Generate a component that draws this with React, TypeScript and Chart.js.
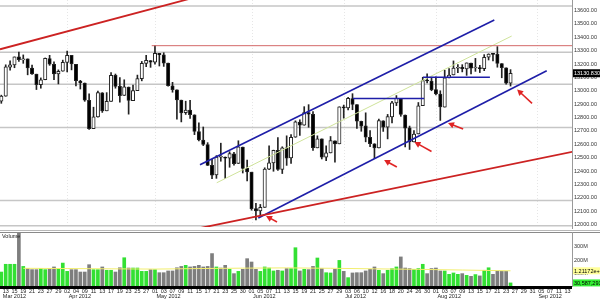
import React, { useEffect, useRef } from 'react';
import { Chart, registerables } from 'chart.js';

Chart.register(...registerables);

const FONT = "'Liberation Sans', Arial, sans-serif";

// ---- categories (trading days, Mar 12 2012 .. Sep 14 2012) ----
const dayLabels = [
  '12', '13', '14', '15', '16', '19', '20', '21', '22', '23', '26', '27', '28', '29', '30',
  '02', '03', '04', '05', '09', '10', '11', '12', '13', '16', '17', '18', '19', '20', '23', '24', '25', '26', '27', '30',
  '01', '02', '03', '04', '07', '08', '09', '10', '11', '14', '15', '16', '17', '18', '21', '22', '23', '24', '25', '29', '30', '31',
  '01', '04', '05', '06', '07', '08', '11', '12', '13', '14', '15', '18', '19', '20', '21', '22', '25', '26', '27', '28', '29',
  '02', '03', '05', '06', '09', '10', '11', '12', '13', '16', '17', '18', '19', '20', '23', '24', '25', '26', '27', '30', '31',
  '01', '02', '03', '06', '07', '08', '09', '10', '13', '14', '15', '16', '17', '20', '21', '22', '23', '24', '27', '28', '29', '30', '31',
  '04', '05', '06', '07', '10', '11', '12', '13', '14',
];
const monthNames = ['Mar 2012', 'Apr 2012', 'May 2012', 'Jun 2012', 'Jul 2012', 'Aug 2012', 'Sep 2012'];
const monthStarts = [0, 15, 35, 57, 78, 99, 122];

// ---- OHLC ----
const opens = [12922, 12960, 13177, 13193, 13253, 13230, 13238, 13170, 13124, 13046,
  13082, 13241, 13197, 13125, 13146, 13211, 13264, 13198, 13073, 13058,
  12929, 12717, 12805, 12985, 12850, 12921, 13115, 13033, 12965, 13028,
  12926, 13001, 13091, 13205, 13226, 13214, 13279, 13268, 13206, 13037,
  13007, 12930, 12836, 12855, 12820, 12695, 12631, 12597, 12442, 12370,
  12503, 12502, 12496, 12529, 12456, 12579, 12420, 12391, 12119, 12101,
  12128, 12414, 12460, 12555, 12411, 12573, 12497, 12652, 12766, 12742,
  12836, 12823, 12573, 12640, 12503, 12535, 12626, 12603, 12879, 12871,
  12942, 12896, 12772, 12737, 12652, 12604, 12573, 12776, 12728, 12805,
  12909, 12942, 12819, 12722, 12617, 12677, 12889, 13076, 13072, 13009,
  12976, 12878, 13096, 13118, 13168, 13175, 13164, 13207, 13170, 13172,
  13165, 13251, 13274, 13272, 13203, 13172, 13057];
const highs = [12967, 13194, 13224, 13253, 13289, 13268, 13238, 13192, 13124, 13096,
  13245, 13265, 13217, 13156, 13229, 13297, 13264, 13198, 13078, 13058,
  12977, 12877, 12998, 12986, 12986, 13135, 13125, 13099, 13082, 13028,
  13043, 13117, 13219, 13265, 13226, 13338, 13279, 13284, 13206, 13063,
  13007, 12930, 12922, 12929, 12820, 12761, 12729, 12612, 12488, 12515,
  12608, 12505, 12544, 12539, 12626, 12579, 12481, 12391, 12158, 12150,
  12424, 12589, 12556, 12650, 12581, 12663, 12673, 12775, 12783, 12881,
  12896, 12844, 12663, 12640, 12589, 12658, 12626, 12880, 12893, 12950,
  12978, 12896, 12773, 12835, 12702, 12604, 12788, 12776, 12823, 12920,
  12964, 12942, 12819, 12736, 12703, 12912, 13101, 13127, 13102, 13104,
  13000, 13153, 13165, 13223, 13195, 13195, 13208, 13207, 13242, 13190,
  13270, 13276, 13279, 13330, 13203, 13172, 13158];
const lows = [12906, 12959, 13154, 13172, 13220, 13205, 13119, 13123, 13009, 13019,
  13082, 13190, 13083, 13051, 13146, 13140, 13156, 13036, 13013, 12921,
  12710, 12717, 12802, 12838, 12850, 12921, 13019, 12915, 12965, 12825,
  12926, 13001, 13074, 13180, 13175, 13198, 13185, 13182, 13035, 12989,
  12787, 12767, 12823, 12794, 12672, 12624, 12590, 12441, 12342, 12345,
  12473, 12343, 12428, 12444, 12456, 12385, 12325, 12107, 12035, 12063,
  12128, 12410, 12398, 12405, 12381, 12442, 12456, 12652, 12666, 12742,
  12727, 12553, 12573, 12490, 12477, 12535, 12466, 12603, 12795, 12857,
  12858, 12719, 12697, 12618, 12582, 12492, 12573, 12696, 12640, 12759,
  12889, 12809, 12580, 12561, 12617, 12677, 12889, 13058, 13000, 12968,
  12778, 12878, 13096, 13118, 13135, 13141, 13115, 13125, 13145, 13136,
  13150, 13230, 13223, 13176, 13097, 13050, 13035];
const closes = [12960, 13178, 13194, 13253, 13233, 13239, 13170, 13125, 13046, 13081,
  13242, 13198, 13126, 13146, 13212, 13264, 13200, 13075, 13060, 12930,
  12716, 12805, 12987, 12850, 12921, 13116, 13033, 12964, 13029, 12927,
  13002, 13091, 13205, 13228, 13214, 13279, 13269, 13207, 13038, 13009,
  12932, 12835, 12855, 12821, 12695, 12632, 12599, 12442, 12369, 12504,
  12503, 12496, 12530, 12455, 12581, 12420, 12393, 12119, 12101, 12128,
  12415, 12461, 12554, 12411, 12574, 12496, 12652, 12767, 12742, 12837,
  12824, 12574, 12641, 12503, 12535, 12627, 12602, 12880, 12871, 12944,
  12897, 12772, 12736, 12653, 12605, 12573, 12777, 12727, 12806, 12909,
  12943, 12823, 12721, 12617, 12676, 12888, 13076, 13073, 13009, 12976,
  12879, 13096, 13118, 13169, 13176, 13165, 13208, 13169, 13172, 13165,
  13250, 13275, 13272, 13204, 13173, 13057, 13130.83];

// ---- volume (millions) ----
const volumes = [112, 170, 170, 170, 420, 154, 138, 130, 130, 138,
  130, 138, 150, 138, 179, 117, 130, 130, 112, 112,
  167, 130, 130, 150, 125, 125, 112, 144, 219, 142,
  142, 142, 117, 117, 130, 130, 107, 107, 120, 120,
  144, 154, 162, 150, 154, 162, 150, 154, 250, 150,
  142, 162, 132, 100, 117, 132, 212, 187, 132, 117,
  150, 142, 120, 125, 120, 138, 138, 294, 120, 132,
  130, 154, 217, 138, 107, 105, 132, 199, 117, 70,
  105, 107, 107, 120, 132, 150, 125, 100, 125, 138,
  150, 225, 142, 138, 132, 138, 170, 100, 138, 142,
  120, 120, 95, 105, 95, 100, 87, 80, 93, 83,
  125, 144, 95, 120, 117, 117, 30.587];
const volAvgIdx = [5, 15, 25, 35, 45, 55, 65, 75, 85, 95, 105, 116];
const volAvg = [140, 138, 136, 134, 138, 141, 143, 140, 136, 132, 127, 121.172];

// ---- axis ticks ----
const priceTicks = [12000, 12100, 12200, 12300, 12400, 12500, 12600, 12700, 12800, 12900,
  13000, 13100, 13200, 13300, 13400, 13500, 13600];
const volTicks = [100, 200, 300];

// ---- drawn studies (in data units: [day index, price]) ----
const grayLevels = [13634, 13287, 13048, 12725, 12179, 11990];
const upperRed = [[-0.3, 13310], [60, 13837]];
const lowerRed = [[44, 11965], [130.2, 12544]];
const channelTop = [[45.26, 12447], [112.3, 13529]];
const channelBottom = [[58.54, 12049], [124.24, 13150]];
const channelMid = [[49.07, 12312], [116.26, 13409]];
const resistance1 = [[80.1, 12942], [96.3, 12942]];
const resistance2 = [[96.06, 13101], [111.3, 13101]];
const mayHigh = [[34.26, 13337], [130, 13337]];
// arrows: [tailIdx, tailPrice, tipIdx, tipPrice]
const arrows = [
  [62.8, 12019, 60.3, 12064],
  [90.1, 12430, 87.2, 12482],
  [98.0, 12546, 94.1, 12617],
  [105.2, 12714, 101.75, 12759],
  [120.9, 12905, 117.5, 13009],
];
const lastPrice = 13130.83;
const lastPriceText = '13130.8301';
const volAvgText = '1.21172e+08';
const lastVolText = '30,587,291';

const X_MIN = -0.3;
const X_MAX = 130;

function lineDs(pts: number[][], color: string, width: number, order: number) {
  return {
    type: 'line',
    data: pts.map(([x, y]) => ({ x, y })),
    borderColor: color,
    borderWidth: width,
    pointRadius: 0,
    fill: false,
    tension: 0,
    order,
  };
}

function drawArrow(ctx: CanvasRenderingContext2D, x0: number, y0: number, x1: number, y1: number) {
  const a = Math.atan2(y1 - y0, x1 - x0);
  const c = Math.cos(a), s = Math.sin(a);
  ctx.strokeStyle = '#e02424';
  ctx.fillStyle = '#e02424';
  ctx.lineWidth = 1.6;
  ctx.beginPath();
  ctx.moveTo(x0, y0);
  ctx.lineTo(x1 - 4 * c, y1 - 4 * s);
  ctx.stroke();
  const h = 6, w = 3.2;
  ctx.beginPath();
  ctx.moveTo(x1, y1);
  ctx.lineTo(x1 - h * c + w * s, y1 - h * s - w * c);
  ctx.lineTo(x1 - h * c - w * s, y1 - h * s + w * c);
  ctx.closePath();
  ctx.fill();
}

const pricePlugin = {
  id: 'priceDecor',
  beforeDatasetsDraw(chart: any) {
    const { ctx, chartArea, scales } = chart;
    ctx.save();
    ctx.strokeStyle = '#e6e6e6';
    ctx.lineWidth = 1;
    ctx.setLineDash([1, 2]);
    monthStarts.slice(1).forEach((i) => {
      const x = Math.round(scales.x.getPixelForValue(i)) + 0.5;
      ctx.beginPath();
      ctx.moveTo(x, chartArea.top);
      ctx.lineTo(x, chartArea.bottom);
      ctx.stroke();
    });
    ctx.restore();
  },
  afterDatasetsDraw(chart: any) {
    const { ctx, chartArea, scales } = chart;
    ctx.save();
    ctx.beginPath();
    ctx.rect(chartArea.left, chartArea.top, chartArea.right - chartArea.left, chartArea.bottom - chartArea.top);
    ctx.clip();
    arrows.forEach(([ti, tp, hi, hp]) => {
      drawArrow(ctx, scales.x.getPixelForValue(ti), scales.y.getPixelForValue(tp),
        scales.x.getPixelForValue(hi), scales.y.getPixelForValue(hp));
    });
    ctx.restore();
  },
  afterDraw(chart: any) {
    const { ctx, chartArea, scales } = chart;
    ctx.save();
    ctx.fillStyle = '#9a9a9a';
    ctx.fillRect(chartArea.right, 0, 1, chart.height);
    const y = scales.y.getPixelForValue(lastPrice);
    ctx.fillStyle = '#000';
    ctx.fillRect(chartArea.right + 1, y - 4, chart.width - chartArea.right - 1, 8);
    ctx.fillStyle = '#fff';
    ctx.font = `5.5px ${FONT}`;
    ctx.textBaseline = 'middle';
    ctx.textAlign = 'left';
    ctx.fillText(lastPriceText, chartArea.right + 2, y + 0.5);
    ctx.restore();
  },
};

const volPlugin = {
  id: 'volDecor',
  afterDraw(chart: any) {
    const { ctx, chartArea, scales } = chart;
    const W = chart.width;
    ctx.save();
    ctx.fillStyle = '#b8b8b8';
    ctx.fillRect(0, 1, W, 1);
    ctx.fillStyle = '#8a8a8a';
    ctx.fillRect(0, 3, W, 1);
    ctx.fillStyle = '#9a9a9a';
    ctx.fillRect(chartArea.right, 3, 1, chartArea.bottom - 3);
    ctx.fillStyle = '#000';
    ctx.fillRect(0, chartArea.bottom - 1, chartArea.right, 3);
    ctx.font = `5.5px ${FONT}`;
    ctx.textBaseline = 'middle';
    ctx.textAlign = 'left';
    ctx.fillStyle = '#222';
    ctx.fillText('Volume', 2, 7.5);
    monthStarts.forEach((idx, k) => {
      ctx.fillText(monthNames[k], scales.x.getPixelForValue(idx) + 1.5, 67.5);
    });
    const box = (v: number, text: string, bg: string) => {
      const y = scales.y.getPixelForValue(v);
      ctx.fillStyle = bg;
      ctx.fillRect(chartArea.right + 1, y - 3.5, W - chartArea.right - 1, 7);
      ctx.fillStyle = '#000';
      ctx.fillText(text, chartArea.right + 2, y + 0.5);
    };
    box(volAvg[volAvg.length - 1], volAvgText, '#ffff99');
    box(volumes[volumes.length - 1], lastVolText, '#33ee33');
    ctx.restore();
  },
};

export default function App() {
  const priceRef = useRef<HTMLCanvasElement>(null);
  const volRef = useRef<HTMLCanvasElement>(null);

  useEffect(() => {
    const idxs = closes.map((_, i) => i);
    const tickIdx = dayLabels.map((_, i) => i).filter((i) => i % 2 === 1);
    const up = idxs.map((i) => (i === 0 ? closes[0] >= opens[0] : closes[i] >= closes[i - 1]));

    const priceChart = new Chart(priceRef.current as HTMLCanvasElement, {
      type: 'bar',
      data: {
        datasets: [
          ...grayLevels.map((v) => lineDs([[X_MIN, v], [X_MAX, v]], '#c6c6c6', 1.5, 10)),
          {
            type: 'bar',
            data: idxs.map((i) => ({ x: i, y: [lows[i], highs[i]] })),
            backgroundColor: '#222',
            barThickness: 1,
            grouped: false,
            order: 6,
          },
          {
            type: 'bar',
            data: idxs.map((i) => ({ x: i, y: [opens[i], closes[i]] })),
            backgroundColor: idxs.map((i) => (closes[i] >= opens[i] ? '#ffffff' : '#000000')),
            borderColor: '#222',
            borderWidth: 1,
            borderSkipped: false,
            barThickness: 3.4,
            minBarLength: 1,
            grouped: false,
            order: 5,
          },
          lineDs(mayHigh, '#d46a6a', 1, 2),
          lineDs(channelMid, '#cfe39a', 1, 2),
          lineDs(upperRed, '#cc2222', 1.8, 1),
          lineDs(lowerRed, '#cc2222', 1.8, 1),
          lineDs(channelTop, '#1e1ea8', 1.6, 1),
          lineDs(channelBottom, '#1e1ea8', 1.6, 1),
          lineDs(resistance1, '#1e1ea8', 1.6, 1),
          lineDs(resistance2, '#1e1ea8', 1.6, 1),
        ] as any,
      },
      options: {
        responsive: false,
        animation: false,
        devicePixelRatio: 1,
        events: [],
        layout: { padding: { left: 0, right: 0, top: 0, bottom: 2 } },
        plugins: { legend: { display: false }, tooltip: { enabled: false } },
        scales: {
          x: { type: 'linear', min: X_MIN, max: X_MAX, display: false, offset: false },
          y: {
            position: 'right',
            min: 11981.3,
            max: 13678.5,
            afterBuildTicks: (s: any) => { s.ticks = priceTicks.map((v) => ({ value: v })); },
            afterFit: (s: any) => { s.width = 28; s.paddingTop = 0; s.paddingBottom = 0; },
            grid: { display: false, drawTicks: false },
            border: { display: false },
            ticks: {
              padding: 2,
              autoSkip: false,
              color: '#333',
              font: { size: 5.5, family: FONT },
              callback: (v: any) => Number(v).toFixed(2),
            },
          },
        },
      } as any,
      plugins: [pricePlugin],
    });

    const volChart = new Chart(volRef.current as HTMLCanvasElement, {
      type: 'bar',
      data: {
        datasets: [
          {
            type: 'line',
            data: volAvgIdx.map((x, k) => ({ x, y: volAvg[k] })),
            borderColor: '#f2ee6e',
            borderWidth: 1,
            pointRadius: 0,
            tension: 0,
            order: 0,
          },
          {
            type: 'bar',
            data: idxs.map((i) => ({ x: i, y: volumes[i] })),
            backgroundColor: idxs.map((i) => (up[i] ? '#33e033' : '#7e7e7e')),
            barThickness: 3,
            grouped: false,
            order: 1,
          },
        ] as any,
      },
      options: {
        responsive: false,
        animation: false,
        devicePixelRatio: 1,
        events: [],
        layout: { padding: { left: 0, right: 0, top: 4, bottom: 0 } },
        plugins: { legend: { display: false }, tooltip: { enabled: false } },
        scales: {
          x: {
            type: 'linear',
            min: X_MIN,
            max: X_MAX,
            offset: false,
            afterBuildTicks: (s: any) => { s.ticks = tickIdx.map((v) => ({ value: v })); },
            afterFit: (s: any) => { s.height = 13; s.paddingLeft = 0; s.paddingRight = 0; },
            grid: { display: false, drawTicks: false },
            border: { display: false },
            ticks: {
              autoSkip: false,
              maxRotation: 0,
              minRotation: 0,
              padding: 1,
              color: '#222',
              font: { size: 5.5, family: FONT },
              callback: (v: any) => dayLabels[v] ?? '',
            },
          },
          y: {
            position: 'right',
            min: 0,
            max: 404,
            afterBuildTicks: (s: any) => { s.ticks = volTicks.map((v) => ({ value: v })); },
            afterFit: (s: any) => { s.width = 28; s.paddingTop = 0; s.paddingBottom = 0; },
            grid: { display: false, drawTicks: false },
            border: { display: false },
            ticks: {
              padding: 2,
              autoSkip: false,
              color: '#333',
              font: { size: 5.5, family: FONT },
              callback: (v: any) => `${v}M`,
            },
          },
        },
      } as any,
      plugins: [volPlugin],
    });

    return () => {
      priceChart.destroy();
      volChart.destroy();
    };
  }, []);

  return (
    <div style={{ position: 'absolute', left: 0, top: 0, width: 600, height: 300, background: '#fff' }}>
      <canvas ref={priceRef} width={600} height={229} style={{ position: 'absolute', left: 0, top: 0, display: 'block' }} />
      <canvas ref={volRef} width={600} height={71} style={{ position: 'absolute', left: 0, top: 229, display: 'block' }} />
    </div>
  );
}
